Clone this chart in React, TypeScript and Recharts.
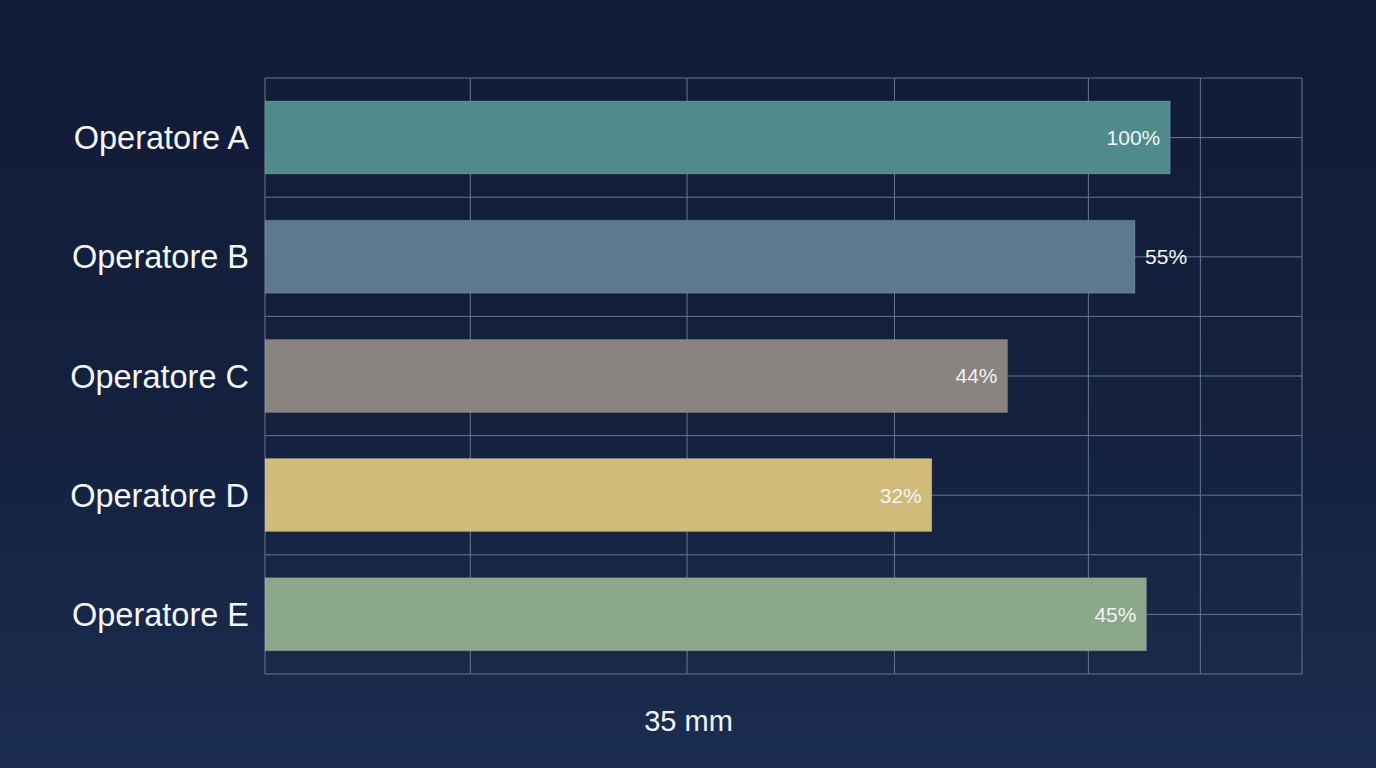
import { BarChart, Bar, XAxis, YAxis, CartesianGrid, Cell, LabelList, Label } from "recharts";

// Categories and bar lengths (plot scale 0–100)
const OPERATORS = ["Operatore A", "Operatore B", "Operatore C", "Operatore D", "Operatore E"];
const LENGTHS = [87.3, 83.9, 71.6, 64.3, 85.0];
const PERCENT_LABELS = ["100%", "55%", "44%", "32%", "45%"];
const X_TICKS = [0, 19.8, 40.7, 60.7, 79.4, 90.2, 100];
const X_DOMAIN = [0, 100];
const BAR_COLORS = ["#4f8b8a", "#5e7890", "#8a8480", "#d0bb7a", "#8ba88a"];

// labels that sit past the bar end instead of inside it
const OUTSIDE = new Set(["Operatore B"]);

const FONT = "'Liberation Sans', Arial, sans-serif";

const data = OPERATORS.map((name, i) => ({
  name,
  value: LENGTHS[i],
  label: PERCENT_LABELS[i],
}));

const ValueLabel = (props: any) => {
  const { x, y, width, height, index } = props;
  const item = data[index];
  const outside = OUTSIDE.has(item.name);
  const tx = outside ? x + width + 10 : x + width - 10;
  return (
    <text
      x={tx}
      y={y + height / 2}
      fill="#f2f4f6"
      fontSize={21}
      fontFamily={FONT}
      textAnchor={outside ? "start" : "end"}
      dominantBaseline="central"
    >
      {item.label}
    </text>
  );
};

// gridlines at band centres and band edges
const rowLines = ({ offset }: any) => {
  const lines: number[] = [];
  const step = offset.height / (OPERATORS.length * 2);
  for (let i = 0; i <= OPERATORS.length * 2; i++) lines.push(offset.top + step * i);
  return lines;
};

// vertical gridlines at the (uneven) x ticks
const colLines = ({ xAxis, offset }: any) => {
  if (xAxis && typeof xAxis.scale === "function") {
    return X_TICKS.map((t) => xAxis.scale(t));
  }
  const [lo, hi] = X_DOMAIN;
  return X_TICKS.map((t) => offset.left + ((t - lo) / (hi - lo)) * offset.width);
};

const App = () => {
  return (
    <div
      style={{
        position: "fixed",
        left: 0,
        top: 0,
        width: 1376,
        height: 768,
        background: "linear-gradient(180deg, #111c36 0%, #14213f 55%, #1b2d50 100%)",
      }}
    >
      <BarChart
        width={1376}
        height={768}
        data={data}
        layout="vertical"
        margin={{ top: 78, right: 74, bottom: 0, left: 25 }}
      >
        <CartesianGrid
          stroke="#67768f"
          strokeWidth={1}
          horizontalCoordinatesGenerator={rowLines}
          verticalCoordinatesGenerator={colLines}
        />
        <XAxis
          type="number"
          domain={X_DOMAIN}
          ticks={X_TICKS}
          tick={false}
          tickLine={false}
          axisLine={false}
          height={94}
        >
          <Label
            value="35 mm"
            position="center"
            dx={-95}
            fill="#f2f4f6"
            fontSize={29}
            fontFamily={FONT}
          />
        </XAxis>
        <YAxis
          type="category"
          dataKey="name"
          width={240}
          tickLine={false}
          axisLine={false}
          tickSize={0}
          tickMargin={16}
          tick={{ fill: "#f4f6f8", fontSize: 32.5, fontFamily: FONT }}
        />
        <Bar
          dataKey="value"
          barSize={73}
          isAnimationActive={false}
          stroke="rgba(255,255,255,0.12)"
          strokeWidth={1}
        >
          {data.map((d, i) => (
            <Cell key={d.name} fill={BAR_COLORS[i]} />
          ))}
          <LabelList dataKey="label" content={ValueLabel} />
        </Bar>
      </BarChart>
    </div>
  );
};

export default App;
